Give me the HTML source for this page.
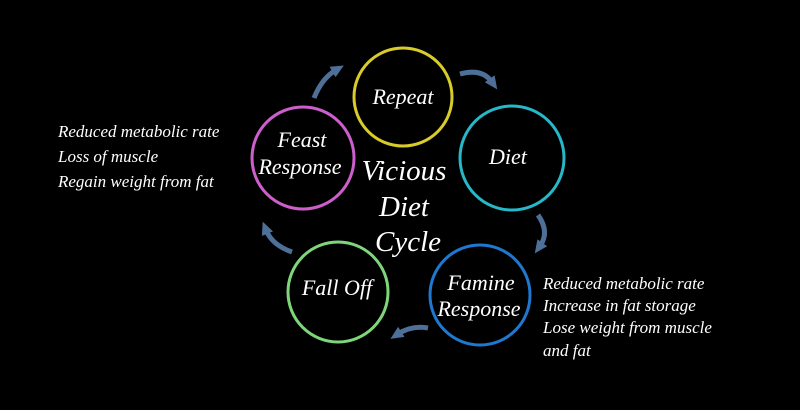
<!DOCTYPE html>
<html><head><style>
body{margin:0;background:#000;width:800px;height:405px;overflow:hidden}
svg text{font-family:"Liberation Serif",serif;font-style:italic;fill:#fff}
</style></head><body>
<svg width="800" height="405" viewBox="0 0 800 405">
<defs><marker id="a" markerWidth="14" markerHeight="14" refX="4" refY="7" orient="auto" markerUnits="userSpaceOnUse"><path d="M0,1 L13,7 L0,13 Z" fill="#4d6f98"/></marker></defs>
<g fill="none" stroke-width="3">
<circle cx="403" cy="97" r="49" stroke="#d8cc2a"/>
<circle cx="512" cy="158" r="52" stroke="#26b8c8"/>
<circle cx="480" cy="295" r="50" stroke="#1f78d0"/>
<circle cx="338" cy="292" r="50" stroke="#7fd67a"/>
<circle cx="303" cy="158" r="51" stroke="#cc5fcc"/>
</g>
<g fill="none" stroke="#4d6f98" stroke-width="5" marker-end="url(#a)">
<path d="M460,74 Q482,68 492,82"/>
<path d="M538,215 Q550,232 540,246"/>
<path d="M428,328 Q412,325 398,334"/>
<path d="M292,252 Q272,245 266,230"/>
<path d="M314,98 Q322,78 336,70"/>
</g>
<g font-size="22" text-anchor="middle">
<text x="403" y="104">Repeat</text>
<text x="508" y="164">Diet</text>
<text x="481" y="290">Famine</text>
<text x="479" y="316">Response</text>
<text x="337" y="295">Fall Off</text>
<text x="302" y="147">Feast</text>
<text x="300" y="174">Response</text>
</g>
<g font-size="29" text-anchor="middle">
<text x="404" y="180">Vicious</text>
<text x="404" y="216">Diet</text>
<text x="408" y="251">Cycle</text>
</g>
<g font-size="17">
<text x="58" y="137">Reduced metabolic rate</text>
<text x="58" y="162">Loss of muscle</text>
<text x="58" y="187">Regain weight from fat</text>
<text x="543" y="289">Reduced metabolic rate</text>
<text x="543" y="311">Increase in fat storage</text>
<text x="543" y="333">Lose weight from muscle</text>
<text x="543" y="356">and fat</text>
</g>
</svg>
</body></html>
